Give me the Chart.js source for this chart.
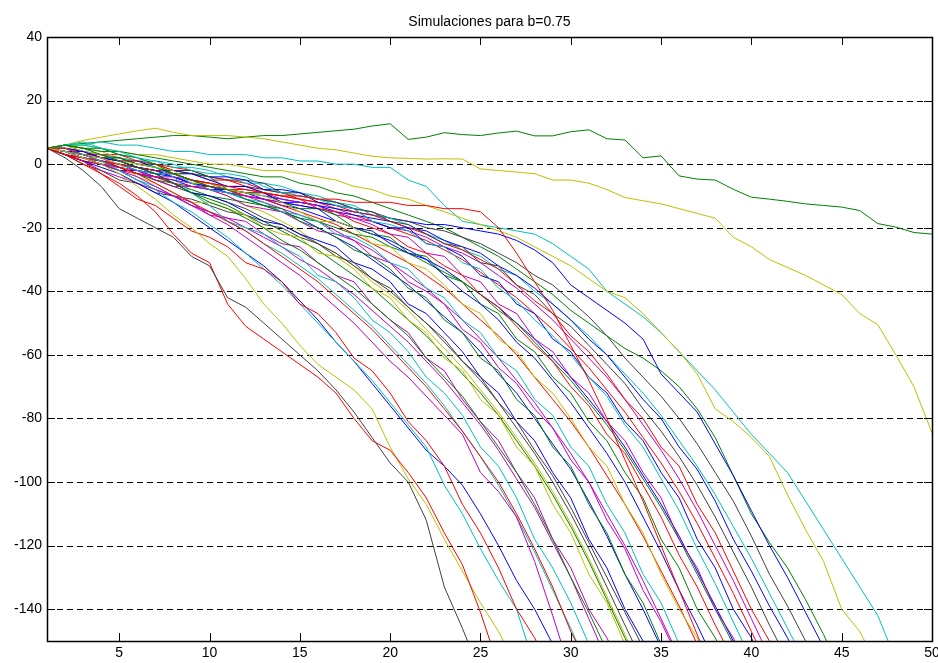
<!DOCTYPE html>
<html>
<head>
<meta charset="utf-8">
<title>Simulaciones para b=0.75</title>
<script src="https://cdn.jsdelivr.net/npm/chart.js@4.4.1/dist/chart.umd.min.js"></script>
<style>
  html, body { margin: 0; padding: 0; background: #ffffff; }
  #grafico { display: block; }
</style>
</head>
<body>
<canvas id="grafico" width="938" height="663"></canvas>
<script>
// Ejes
const titulo = 'Simulaciones para b=0.75';
const xTicks = [5, 10, 15, 20, 25, 30, 35, 40, 45, 50];
const yTicks = [40, 20, 0, -20, -40, -60, -80, -100, -120, -140];

// Colores por defecto de MATLAB
const colores = {
  b: '#0000ff', g: '#008000', r: '#ff0000', c: '#00bfbf',
  m: '#bf00bf', y: '#bfbf00', k: '#404040'
};

// Simulaciones (valor en t = 1, 2, 3 ...)
const sim01 = [5,2,-2,-7,-14,-17,-20,-23,-29,-32,-42,-45,-50,-55,-60,-65,-71,-78,-86,-94,-100,-112,-133,-146,-160];
const sim02 = [5,3,0,-3,-6,-10,-15,-22,-28,-31,-44,-51,-55,-59,-63,-67,-72,-80,-87,-90,-97,-105,-116,-126,-141,-158];
const sim03 = [5,4,2,0,-3,-7,-11,-16,-20,-25,-29,-36,-44,-50,-57,-63,-67,-71,-77,-89,-99,-107,-118,-128,-138,-147,-158];
const sim04 = [5,3,1,-3,-7,-11,-13,-17,-21,-23,-26,-31,-33,-37,-44,-47,-53,-61,-65,-72,-81,-87,-95,-107,-116,-127,-140,-149,-161];
const sim05 = [5,4,3,1,-2,-5,-8,-12,-15,-19,-23,-28,-33,-38,-44,-50,-56,-62,-68,-75,-82,-89,-101,-110,-121,-131,-140,-158];
const sim06 = [5,3,1,-1,-3,-6,-9,-12,-16,-20,-24,-28,-32,-37,-43,-49,-56,-62,-69,-76,-83,-90,-95,-101,-110,-120,-131,-140,-151,-162];
const sim07 = [5,4,2,0,-2,-4,-7,-10,-13,-16,-19,-23,-27,-31,-35,-40,-45,-50,-56,-62,-67,-73,-79,-85,-97,-103,-111,-125,-142,-160];
const sim08 = [5,5,3,1,-1,-3,-6,-9,-12,-15,-18,-21,-25,-29,-33,-37,-42,-47,-52,-58,-64,-70,-77,-84,-92,-100,-110,-121,-133,-147,-158];
const sim09 = [5,6,5,3,1,-1,-3,-6,-9,-12,-14,-17,-20,-24,-27,-31,-35,-39,-44,-49,-54,-61,-67,-73,-81,-89,-97,-107,-118,-130,-141,-153];
const sim10 = [5,6,7,5,4,2,-1,-4,-9,-13,-18,-20,-22,-26,-29,-35,-37,-42,-49,-53,-59,-67,-72,-79,-89,-95,-105,-118,-127,-138,-151,-162];
const sim11 = [5,4,3,1,-2,-5,-8,-10,-12,-16,-17,-18,-22,-25,-26,-31,-35,-37,-44,-49,-53,-61,-65,-74,-81,-87,-97,-105,-118,-127,-140,-149,-161];
const sim12 = [5,5,3,2,0,-4,-6,-9,-12,-12,-14,-16,-20,-22,-23,-28,-29,-33,-39,-42,-49,-53,-61,-65,-74,-79,-89,-95,-107,-116,-129,-138,-151,-162];
const sim13 = [5,3,0,-2,-5,-6,-9,-10,-11,-13,-15,-16,-19,-20,-23,-25,-29,-31,-36,-39,-45,-50,-55,-62,-67,-75,-81,-90,-98,-108,-119,-130,-141,-152];
const sim14 = [5,4,4,2,1,-1,-3,-6,-9,-10,-12,-15,-18,-19,-22,-24,-26,-31,-33,-37,-44,-47,-53,-59,-67,-72,-81,-87,-97,-105,-118,-127,-140,-150,-161];
const sim15 = [5,6,5,5,3,2,0,-3,-5,-7,-8,-11,-13,-14,-18,-20,-23,-27,-29,-33,-39,-42,-49,-53,-61,-65,-74,-79,-89,-95,-107,-116,-129,-138,-151,-162];
const sim16 = [5,3,2,1,0,-1,-2,-3,-5,-6,-7,-8,-9,-10,-10,-11,-11,-12,-12,-12,-13,-13,-14,-14,-15,-20,-28,-37,-46,-57,-68,-80,-93,-106,-120,-134,-148,-162];
const sim17 = [5,4,2,1,0,-2,-3,-3,-6,-8,-9,-11,-12,-15,-16,-18,-22,-23,-26,-31,-33,-39,-42,-49,-53,-61,-65,-74,-79,-89,-95,-107,-116,-129,-138,-151,-162];
const sim18 = [5,4,3,2,-1,-2,-5,-7,-7,-8,-10,-13,-14,-15,-18,-21,-22,-24,-29,-31,-37,-40,-44,-52,-56,-64,-69,-77,-83,-93,-100,-112,-121,-134,-144,-156];
const sim19 = [5,6,4,3,1,0,-1,-2,-6,-6,-8,-9,-10,-12,-15,-18,-18,-20,-25,-26,-31,-33,-38,-44,-47,-55,-59,-67,-72,-80,-89,-95,-107,-116,-129,-140,-149,-162];
const sim20 = [5,5,4,2,1,-1,-2,-2,-3,-5,-7,-7,-9,-12,-13,-14,-18,-20,-21,-25,-28,-30,-35,-40,-44,-49,-56,-61,-68,-75,-83,-91,-100,-111,-122,-134,-145,-157];
const sim21 = [5,5,3,2,2,0,-1,-3,-3,-4,-8,-9,-9,-12,-14,-14,-16,-20,-22,-23,-28,-29,-35,-37,-44,-47,-55,-59,-67,-72,-81,-87,-97,-105,-118,-127,-140,-149,-161];
const sim22 = [5,4,3,3,1,1,0,-2,-3,-5,-5,-7,-9,-10,-11,-14,-15,-18,-20,-22,-26,-28,-32,-35,-41,-45,-51,-57,-62,-70,-76,-85,-91,-101,-111,-123,-133,-145,-156];
const sim23 = [5,3,2,0,-1,-3,-4,-4,-5,-6,-8,-9,-9,-11,-12,-13,-16,-17,-19,-22,-23,-28,-29,-35,-37,-44,-47,-55,-59,-67,-72,-81,-87,-97,-105,-118,-127,-140,-149,-162];
const sim24 = [5,6,6,5,3,2,1,0,-2,-3,-3,-4,-7,-9,-10,-11,-13,-14,-18,-19,-21,-25,-26,-31,-33,-39,-43,-49,-54,-60,-67,-73,-82,-89,-99,-109,-121,-132,-144,-156];
const sim25 = [5,4,3,3,1,1,-1,-3,-3,-4,-4,-5,-8,-8,-9,-12,-13,-14,-18,-20,-20,-25,-26,-29,-35,-37,-44,-47,-55,-59,-67,-72,-81,-87,-97,-105,-118,-127,-140,-149,-161];
const sim26 = [5,5,4,2,2,0,0,-2,-2,-4,-5,-5,-6,-9,-9,-11,-12,-14,-15,-18,-19,-22,-25,-26,-31,-32,-38,-41,-47,-51,-57,-63,-69,-77,-84,-92,-101,-111,-122,-133,-145,-156];
const sim27 = [5,3,1,0,-2,-3,-4,-6,-7,-7,-8,-8,-9,-10,-11,-12,-13,-15,-16,-18,-20,-22,-25,-27,-30,-33,-38,-43,-47,-54,-59,-66,-74,-80,-89,-95,-107,-116,-128,-140,-150,-161];
const sim28 = [5,4,2,1,-1,-2,-4,-5,-6,-8,-9,-10,-11,-12,-13,-14,-15,-17,-18,-20,-21,-23,-26,-28,-31,-35,-39,-44,-49,-55,-61,-67,-74,-82,-90,-99,-109,-120,-131,-143,-155];
const sim29 = [5,3,2,0,-1,-3,-5,-6,-8,-10,-11,-12,-13,-15,-17,-18,-20,-22,-23,-26,-28,-31,-34,-37,-41,-46,-50,-56,-62,-68,-75,-82,-90,-99,-108,-118,-129,-140,-151];
const sim30 = [5,3,1,0,-2,-2,-4,-5,-7,-8,-8,-9,-11,-12,-12,-13,-15,-16,-17,-18,-20,-21,-24,-26,-28,-32,-35,-39,-44,-49,-55,-60,-67,-74,-80,-89,-96,-106,-118,-128,-139,-149,-161];
const sim31 = [5,5,4,3,2,1,1,-1,-1,-2,-4,-6,-6,-7,-9,-10,-12,-13,-16,-17,-19,-22,-24,-27,-29,-33,-35,-40,-44,-49,-54,-60,-66,-72,-79,-87,-95,-104,-114,-124,-135,-146,-157];
const sim32 = [5,4,2,1,0,-2,-3,-3,-5,-6,-7,-7,-8,-9,-10,-11,-12,-14,-15,-17,-18,-20,-21,-23,-25,-28,-31,-35,-38,-43,-48,-54,-61,-67,-73,-80,-88,-97,-106,-117,-129,-139,-150,-161];
const sim33 = [5,4,3,1,0,-1,-2,-4,-6,-7,-8,-9,-10,-11,-12,-13,-14,-15,-16,-17,-18,-19,-19,-20,-21,-22,-24,-27,-31,-38,-42,-46,-50,-55,-66,-72,-78,-88,-98,-109,-120,-130,-141,-152];
const sim34 = [5,6,5,4,4,3,2,1,0,-1,-2,-3,-4,-4,-6,-7,-9,-10,-12,-14,-16,-18,-20,-23,-26,-29,-33,-37,-41,-46,-50,-54,-58,-61,-65,-70,-77,-86,-98,-110,-119,-127,-137,-148,-160];
const sim35 = [5,6,6,5,4,3,3,2,1,0,0,-1,-2,-2,-3,-4,-5,-7,-8,-10,-11,-13,-15,-17,-19,-21,-23,-26,-29,-32,-36,-40,-42,-47,-53,-59,-66,-77,-81,-86,-92,-104,-115,-125,-140,-147,-158];
const sim36 = [5,6,6,7,6,6,5,4,4,3,3,3,2,2,1,1,0,0,-1,-1,-5,-7,-13,-18,-19,-20,-21,-22,-25,-29,-33,-40,-44,-48,-53,-59,-65,-71,-78,-85,-91,-97,-106,-115,-124,-133,-142,-156];
const sim37 = [5,3,1,-2,-4,-6,-8,-10,-13,-15,-17,-20,-23,-26,-30,-33,-37,-41,-46,-51,-56,-62,-68,-75,-82,-90,-99,-108,-119,-130,-143,-156];
const sim38 = [5,4,2,0,-1,-3,-5,-7,-9,-10,-12,-14,-17,-19,-22,-25,-28,-32,-36,-40,-45,-50,-56,-62,-68,-75,-83,-91,-100,-110,-121,-133,-145,-157];
const sim39 = [5,5,3,2,1,-1,-2,-4,-6,-8,-9,-11,-13,-15,-17,-20,-23,-26,-30,-34,-38,-43,-48,-53,-59,-66,-72,-80,-88,-96,-106,-117,-129,-140,-152];
const sim40 = [5,4,4,2,0,-1,-3,-3,-5,-7,-8,-10,-11,-13,-15,-17,-19,-22,-25,-28,-31,-35,-39,-44,-49,-54,-60,-67,-74,-81,-89,-98,-107,-117,-128,-139,-151];
const sim41 = [5,4,2,1,-1,-3,-4,-6,-9,-11,-13,-16,-18,-21,-24,-27,-31,-35,-39,-44,-49,-54,-60,-66,-72,-79,-87,-95,-104,-114,-125,-137,-149,-161];
const sim42 = [5,5,4,3,2,0,-1,-3,-5,-6,-8,-10,-12,-14,-16,-18,-21,-24,-27,-31,-35,-39,-44,-49,-55,-61,-68,-75,-83,-91,-100,-110,-120,-131,-143,-155];
const sim43 = [5,3,2,0,-2,-5,-7,-10,-13,-15,-18,-21,-25,-28,-32,-36,-41,-46,-51,-57,-63,-69,-76,-84,-92,-101,-111,-122,-134,-146,-159];
const sim44 = [5,6,5,4,2,1,-1,-3,-5,-8,-10,-13,-15,-18,-21,-25,-28,-32,-37,-41,-46,-52,-58,-64,-71,-78,-86,-94,-103,-113,-124,-136,-148,-160];
const sim45 = [5,4,2,1,0,-2,-3,-4,-6,-7,-9,-10,-11,-13,-14,-16,-18,-20,-22,-24,-27,-30,-33,-37,-41,-45,-50,-55,-61,-67,-74,-81,-89,-98,-107,-117,-128,-139,-150,-162];
const sim46 = [5,6,4,3,3,1,0,-1,-2,-4,-5,-6,-8,-9,-11,-12,-14,-16,-18,-20,-22,-24,-27,-30,-34,-38,-42,-47,-52,-58,-64,-71,-78,-86,-94,-103,-113,-124,-135,-147,-159];
const simAmarillaAlta = [5,6,7.5,8.5,9.5,10.5,11.3,10,9,9,9,8.5,8,7,6,5,4.5,3.5,2.5,2,1.8,1.6,1.7,1.6,-1.5,-2,-2.5,-3,-5,-5,-6,-8,-10.5,-11.5,-12.5,-14,-15.5,-17,-23,-26,-30,-32.5,-35,-38,-41,-47,-50.5,-60,-70,-84.5];
const simVerdeAlta = [5,6,6.5,7,7.5,8,8.5,9,9,8.5,8,8.5,9,9,9.5,10,10.5,11,12,12.7,7.8,8.5,9.9,9.3,9,9.8,10.4,8.9,8.9,10.2,10.8,8,7.6,2,2.6,-3.7,-4.7,-5,-7.9,-10.4,-11,-11.7,-12.5,-13,-13.5,-14.6,-18.7,-19.8,-21.5,-22];

// Orden de dibujo y color de cada simulación
const simulaciones = [
  [sim01, 'k'], [sim02, 'r'], [sim03, 'y'], [sim04, 'r'], [sim05, 'c'], [sim06, 'b'],
  [sim07, 'm'], [sim08, 'r'], [sim09, 'g'], [sim10, 'c'], [sim11, 'm'], [sim12, 'y'],
  [sim13, 'k'], [sim14, 'b'], [sim15, 'g'], [sim16, 'r'], [sim17, 'c'], [sim18, 'm'],
  [sim19, 'y'], [sim20, 'b'], [sim21, 'g'], [sim22, 'r'], [sim23, 'm'], [sim24, 'c'],
  [sim25, 'b'], [sim26, 'k'], [sim27, 'r'], [sim28, 'm'], [sim29, 'g'], [sim30, 'b'],
  [sim31, 'c'], [sim32, 'k'], [sim33, 'b'], [sim34, 'g'], [sim35, 'y'], [sim36, 'c'],
  [sim37, 'm'], [sim38, 'k'], [sim39, 'b'], [sim40, 'r'], [sim41, 'g'], [sim42, 'm'],
  [sim43, 'c'], [sim44, 'y'], [sim45, 'b'], [sim46, 'r'],
  [simAmarillaAlta, 'y'], [simVerdeAlta, 'g']
];

const datasets = simulaciones.map(([valores, c]) => ({
  data: valores.map((v, i) => ({ x: i + 1, y: v })),
  borderColor: colores[c],
  borderWidth: 1,
  pointRadius: 0,
  tension: 0,
  fill: false
}));

const fuente = { family: '"Liberation Sans", Arial, Helvetica, sans-serif', size: 14 };

// Cuadro, rejilla discontinua, marcas hacia dentro y título (estilo MATLAB)
const marcoPlugin = {
  id: 'marco',
  beforeDatasetsDraw(chart) {
    const { ctx, chartArea: a, scales } = chart;
    ctx.save();
    ctx.strokeStyle = '#000';
    ctx.lineWidth = 1;
    ctx.setLineDash([6, 4]);
    yTicks.forEach(v => {
      if (v === scales.y.max) return;
      const py = Math.round(scales.y.getPixelForValue(v)) + 0.5;
      ctx.beginPath();
      ctx.moveTo(a.left, py);
      ctx.lineTo(a.right, py);
      ctx.stroke();
    });
    ctx.restore();
  },
  afterDatasetsDraw(chart) {
    const { ctx, chartArea: a, scales } = chart;
    const largo = 8;
    ctx.save();
    ctx.strokeStyle = '#000';
    ctx.lineWidth = 1;
    ctx.setLineDash([]);
    ctx.beginPath();
    xTicks.forEach(v => {
      if (v === scales.x.max) return;
      const px = Math.round(scales.x.getPixelForValue(v)) + 0.5;
      ctx.moveTo(px, a.bottom); ctx.lineTo(px, a.bottom - largo);
      ctx.moveTo(px, a.top); ctx.lineTo(px, a.top + largo);
    });
    yTicks.forEach(v => {
      if (v === scales.y.max) return;
      const py = Math.round(scales.y.getPixelForValue(v)) + 0.5;
      ctx.moveTo(a.left, py); ctx.lineTo(a.left + largo, py);
      ctx.moveTo(a.right, py); ctx.lineTo(a.right - largo, py);
    });
    ctx.stroke();
    ctx.lineWidth = 1.5;
    ctx.strokeRect(Math.round(a.left) + 0.5, Math.round(a.top) + 0.5,
      Math.round(a.right - a.left), Math.round(a.bottom - a.top));
    ctx.restore();
  },
  afterDraw(chart) {
    const { ctx, chartArea: a } = chart;
    ctx.save();
    ctx.fillStyle = '#000';
    ctx.font = `${fuente.size}px ${fuente.family}`;
    ctx.textAlign = 'center';
    ctx.textBaseline = 'alphabetic';
    ctx.fillText(titulo, (a.left + a.right) / 2, 26);
    ctx.restore();
  }
};

new Chart(document.getElementById('grafico'), {
  type: 'line',
  data: { datasets },
  options: {
    responsive: false,
    maintainAspectRatio: false,
    animation: false,
    devicePixelRatio: 1,
    layout: { padding: { top: 37, right: 6, left: 0, bottom: 0 } },
    plugins: {
      legend: { display: false },
      title: { display: false },
      tooltip: { enabled: false }
    },
    scales: {
      x: {
        type: 'linear',
        min: 1,
        max: 50,
        grid: { display: false, drawTicks: false },
        border: { display: false },
        ticks: { color: '#000', font: fuente, padding: 4, maxRotation: 0, autoSkip: false },
        afterBuildTicks: s => { s.ticks = xTicks.map(v => ({ value: v })); },
        afterFit: s => { s.height = 22; s.paddingLeft = 0; s.paddingRight = 0; }
      },
      y: {
        type: 'linear',
        min: -150,
        max: 40,
        grid: { display: false, drawTicks: false },
        border: { display: false },
        ticks: { color: '#000', font: fuente, padding: 5, autoSkip: false },
        afterBuildTicks: s => { s.ticks = yTicks.map(v => ({ value: v })); },
        afterFit: s => { s.width = 47; s.paddingTop = 0; s.paddingBottom = 0; }
      }
    }
  },
  plugins: [marcoPlugin]
});
</script>
</body>
</html>
